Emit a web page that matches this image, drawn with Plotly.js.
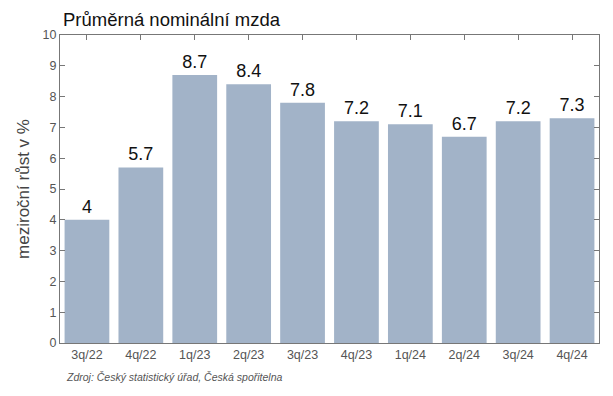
<!DOCTYPE html>
<html><head><meta charset="utf-8">
<script src="https://cdn.plot.ly/plotly-3.0.1.min.js"></script>
<style>body{margin:0;background:#fff}#c{width:613px;height:396px}</style>
</head><body><div id="c"></div>
<script>
const categories = ["3q/22","4q/22","1q/23","2q/23","3q/23","4q/23","1q/24","2q/24","3q/24","4q/24"];
const values = [4, 5.7, 8.7, 8.4, 7.8, 7.2, 7.1, 6.7, 7.2, 7.3];
const labels = ["4","5.7","8.7","8.4","7.8","7.2","7.1","6.7","7.2","7.3"];
const titleText = "Průměrná nominální mzda";
const yTitle = "meziroční růst v %";
const source = "Zdroj: Český statistický úřad, Česká spořitelna";

const font = "Liberation Sans, Arial, sans-serif";
const data = [
  {type:"bar", x:categories, y:values, text:labels, textposition:"outside",
   textfont:{size:18, color:"#111", family:font}, cliponaxis:false,
   marker:{color:"#a2b3c8"}, width:0.83, hoverinfo:"skip", showlegend:false},
  {type:"scatter", mode:"none", x:categories, y:categories.map(()=>null), xaxis:"x2",
   showlegend:false, hoverinfo:"skip"}
];
const layout = {
  width:613, height:396, margin:{l:60, r:14, t:35, b:53},
  paper_bgcolor:"#fff", plot_bgcolor:"#fff",
  font:{family:font, color:"#555"},
  title:{text:titleText, x:63/613, xanchor:"left", y:1-20/396, yanchor:"middle",
         font:{size:18.5, color:"#111", family:font}},
  xaxis:{type:"category", showline:true, linecolor:"#777", linewidth:1, ticks:"",
         tickfont:{size:12.5, color:"#555"}, showgrid:false, fixedrange:true},
  xaxis2:{type:"category", overlaying:"x", side:"top", matches:"x", showticklabels:false,
          ticks:"inside", ticklen:5, tickcolor:"#777", showline:true, linecolor:"#777",
          showgrid:false},
  yaxis:{range:[0,10], dtick:1, ticks:"inside", ticklen:5, tickcolor:"#777",
         showline:true, linecolor:"#777", mirror:"ticks", showgrid:false, zeroline:false,
         tickfont:{size:12.5, color:"#555"},
         title:{text:yTitle, font:{size:17, color:"#444"}, standoff:8}},
  bargap:0.17,
  annotations:[{text:source, xref:"paper", yref:"paper", x:4/539, y:-34/308, xanchor:"left",
    yanchor:"middle", showarrow:false, font:{size:10.5, color:"#555", family:font, style:"italic"}}]
};
Plotly.newPlot("c", data, layout, {staticPlot:true});
</script></body></html>
